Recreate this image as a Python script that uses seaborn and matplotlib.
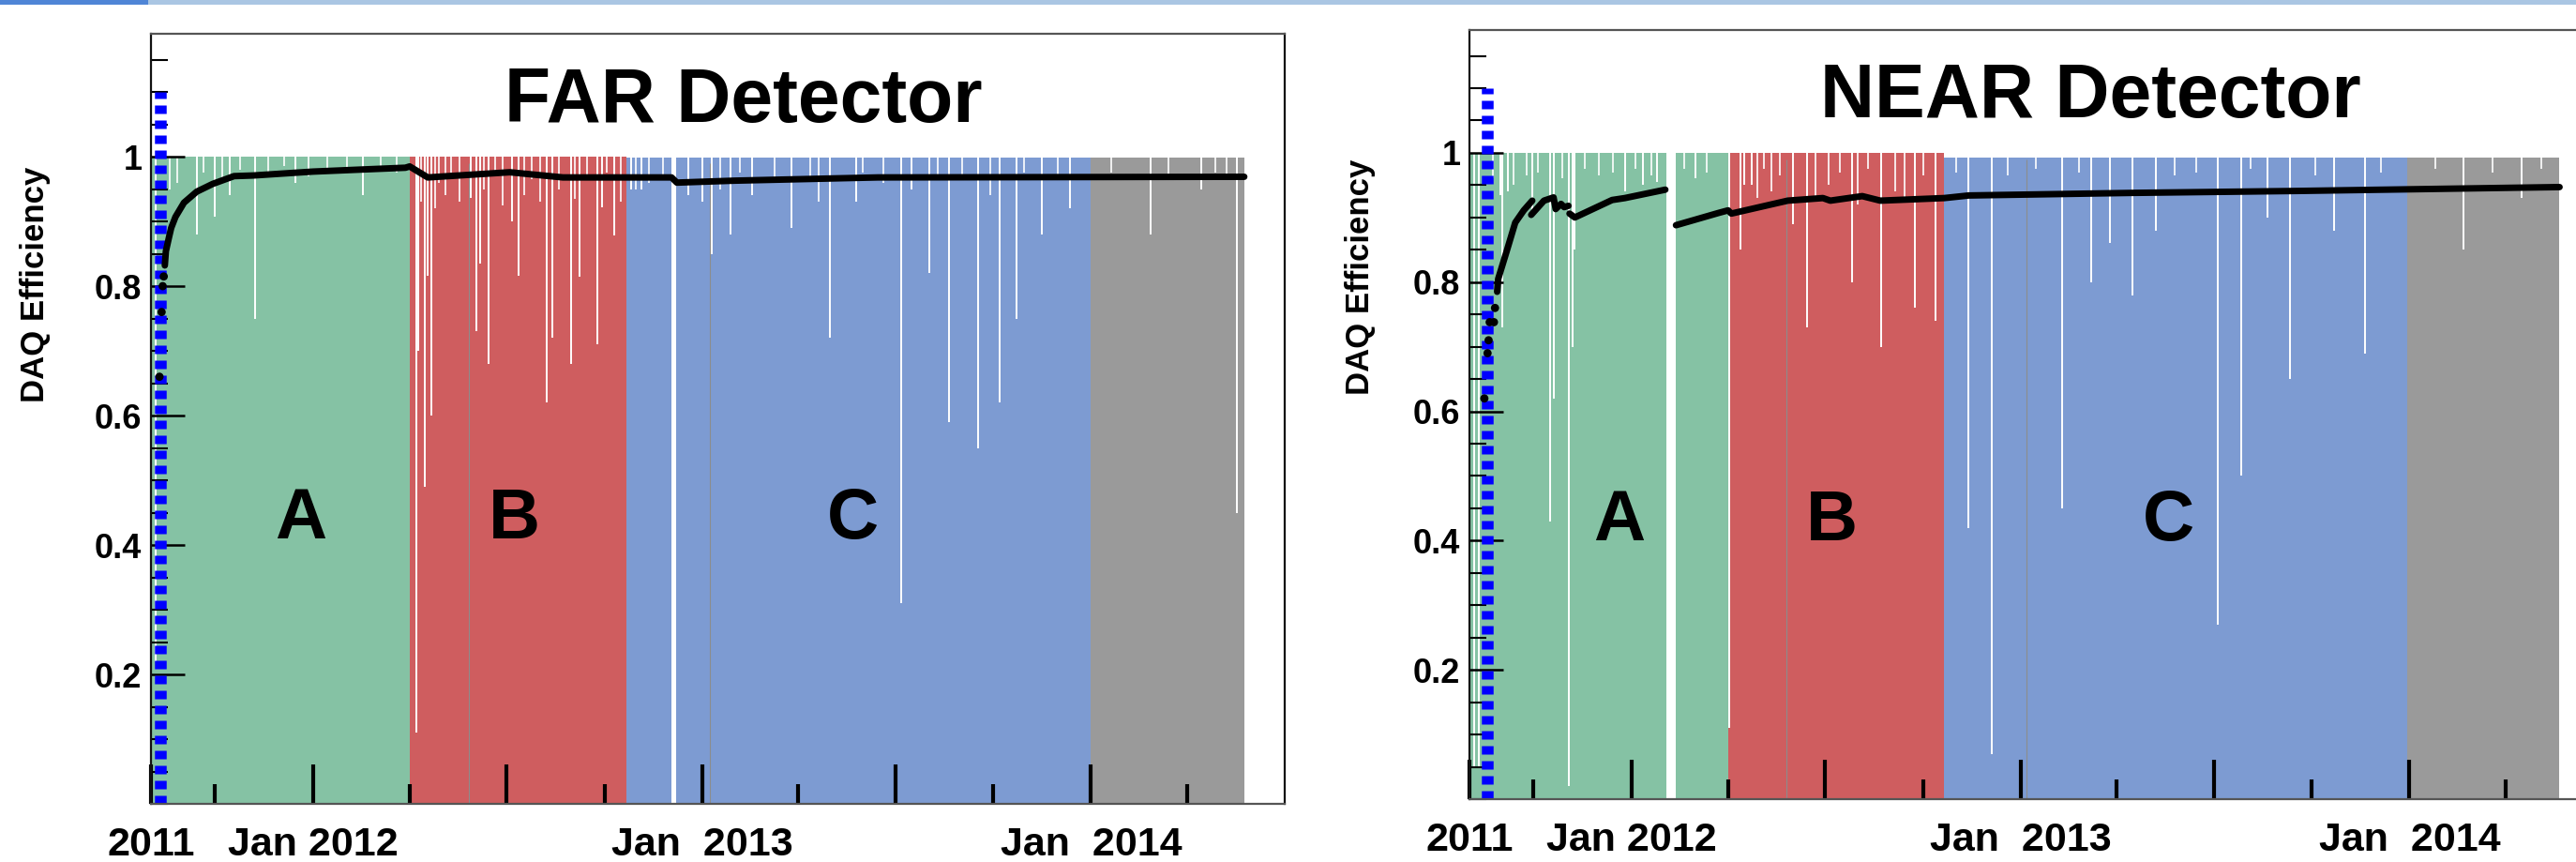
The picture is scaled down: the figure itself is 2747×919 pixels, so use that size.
import pandas as pd
import matplotlib
matplotlib.use("Agg")
import matplotlib.pyplot as plt
import matplotlib.dates as mdates
from matplotlib.patches import Rectangle
from matplotlib.ticker import FixedLocator, MultipleLocator
import seaborn as sns

# ================= DATA =================
X_START = "2011-08-02"
X_END = "2014-07-02"

PERIOD_COLORS = {"A": "#85C2A4", "B": "#CF5D5F", "C": "#7D9BD2", "D": "#9A9A9A"}

# FAR detector run periods (gaps = no data)
far_period_label = ["A", "B", "C", "C", "D"]
far_period_start = ["2011-08-02", "2012-04-01", "2012-10-22", "2012-12-07", "2014-01-01"]
far_period_end = ["2012-04-01", "2012-10-22", "2012-12-03", "2014-01-01", "2014-05-25"]
far_period_top = [1.0, 1.0, 0.998, 0.998, 0.998]

# NEAR detector run periods
near_period_label = ["A", "A", "B", "C", "D"]
near_period_start = ["2011-08-02", "2012-02-12", "2012-04-01", "2012-10-21", "2013-12-30"]
near_period_end = ["2012-02-03", "2012-04-01", "2012-10-21", "2013-12-30", "2014-05-22"]
near_period_top = [1.0, 1.0, 1.0, 0.993, 0.993]

# days with low DAQ efficiency (white notches in the histogram)
far_dip_dates = ["2011-08-06", "2011-09-14", "2011-10-01", "2011-10-15", "2011-11-08", "2011-12-16",
                 "2012-02-17", "2012-04-07", "2012-04-09", "2012-04-15", "2012-04-18", "2012-04-21",
                 "2012-05-28", "2012-06-03", "2012-06-06", "2012-06-14", "2012-07-06", "2012-07-12",
                 "2012-08-08", "2012-08-13", "2012-08-31", "2012-09-08", "2012-09-24", "2012-09-29",
                 "2012-10-10", "2012-10-26", "2012-11-05", "2012-12-19", "2013-01-01", "2013-01-10",
                 "2013-01-27", "2013-02-17", "2013-03-26", "2013-05-01", "2013-05-25", "2013-07-07",
                 "2013-07-16", "2013-08-02", "2013-08-21", "2013-09-17", "2013-10-07", "2013-10-23",
                 "2013-11-16", "2013-12-12", "2014-02-26", "2014-04-15", "2014-05-18"]
far_dip_values = [0.22, 0.88, 0.907, 0.94, 0.75, 0.96,
                  0.94, 0.11, 0.70, 0.49, 0.816, 0.60,
                  0.936, 0.73, 0.835, 0.68, 0.90, 0.816,
                  0.62, 0.72, 0.68, 0.814, 0.71, 0.922,
                  0.878, 0.95, 0.95, 0.94, 0.93, 0.85,
                  0.88, 0.94, 0.89, 0.72, 0.93, 0.31,
                  0.95, 0.82, 0.59, 0.55, 0.62, 0.75,
                  0.88, 0.92, 0.88, 0.95, 0.45]

near_dip_dates = ["2011-08-06", "2011-08-11", "2011-08-31", "2011-09-02", "2011-09-07", "2011-09-30",
                  "2011-10-17", "2011-10-20", "2011-11-03", "2011-11-07", "2011-11-09", "2011-12-26",
                  "2012-01-12", "2012-01-25", "2012-03-01", "2012-04-02", "2012-04-13", "2012-04-16",
                  "2012-04-23", "2012-06-01", "2012-06-14", "2012-07-26", "2012-08-23", "2012-09-23",
                  "2012-10-13", "2012-11-13", "2012-12-05", "2013-02-09", "2013-03-08", "2013-03-26",
                  "2013-04-16", "2013-05-08", "2013-07-05", "2013-07-27", "2013-08-21", "2013-09-11",
                  "2013-10-22", "2013-11-20", "2014-02-21", "2014-04-16"]
near_dip_values = [0.05, 0.05, 0.935, 0.73, 0.94, 0.91,
                   0.43, 0.62, 0.02, 0.70, 0.85, 0.94,
                   0.95, 0.955, 0.96, 0.11, 0.85, 0.95,
                   0.95, 0.89, 0.73, 0.80, 0.70, 0.76,
                   0.74, 0.42, 0.07, 0.45, 0.80, 0.86,
                   0.78, 0.88, 0.27, 0.50, 0.90, 0.65,
                   0.88, 0.69, 0.85, 0.93]

# small notches that make the ragged top of the histogram
far_notch_dates = ["2011-08-20", "2011-08-27", "2011-09-20", "2011-10-08", "2011-10-25", "2011-11-20",
                   "2011-12-05", "2011-12-28", "2012-01-15", "2012-02-02", "2012-03-05", "2012-03-20",
                   "2012-04-12", "2012-04-25", "2012-04-28", "2012-05-05", "2012-05-10", "2012-05-18",
                   "2012-06-10", "2012-06-20", "2012-06-27", "2012-07-18", "2012-07-25", "2012-08-02",
                   "2012-08-19", "2012-09-03", "2012-09-15", "2012-10-03", "2012-10-16",
                   "2012-10-30", "2012-11-12", "2012-11-25", "2013-01-18", "2013-02-05", "2013-03-10",
                   "2013-04-12", "2013-04-20", "2013-06-01", "2013-06-20", "2013-08-10", "2013-09-02",
                   "2013-09-28", "2013-10-30", "2013-12-01", "2014-01-20", "2014-03-15", "2014-04-28",
                   "2014-05-08"]
far_notch_values = [0.95, 0.96, 0.975, 0.965, 0.98, 0.975,
                    0.985, 0.97, 0.98, 0.975, 0.985, 0.975,
                    0.93, 0.92, 0.96, 0.94, 0.975, 0.93,
                    0.95, 0.97, 0.925, 0.94, 0.965, 0.93,
                    0.95, 0.935, 0.97, 0.975, 0.93,
                    0.95, 0.96, 0.97, 0.95, 0.975, 0.965,
                    0.97, 0.93, 0.975, 0.96, 0.97, 0.965,
                    0.94, 0.975, 0.97, 0.975, 0.97, 0.975,
                    0.965]

near_notch_dates = ["2011-08-24", "2011-09-12", "2011-09-25", "2011-10-05", "2011-10-28", "2011-11-18",
                    "2011-12-02", "2011-12-15", "2012-01-05", "2012-01-20", "2012-02-20", "2012-03-12",
                    "2012-04-28", "2012-05-05", "2012-05-12", "2012-05-20", "2012-06-22", "2012-07-04",
                    "2012-07-15", "2012-08-01", "2012-08-10", "2012-09-05", "2012-09-14", "2012-10-01",
                    "2012-11-01", "2012-12-20", "2013-01-15", "2013-02-25", "2013-05-25", "2013-06-15",
                    "2013-08-05", "2013-10-05", "2013-12-05", "2014-01-25", "2014-03-20", "2014-05-05"]
near_notch_values = [0.96, 0.95, 0.965, 0.97, 0.96, 0.975,
                     0.965, 0.97, 0.975, 0.965, 0.975, 0.97,
                     0.93, 0.975, 0.94, 0.965, 0.93, 0.95,
                     0.97, 0.92, 0.975, 0.94, 0.93, 0.965,
                     0.97, 0.965, 0.975, 0.97, 0.965, 0.97,
                     0.975, 0.965, 0.97, 0.975, 0.97, 0.975]

# thin gray seams between stacked histograms
far_seam_dates = ["2012-05-27", "2013-01-08"]
near_seam_dates = ["2012-05-26", "2013-01-06"]

# cumulative DAQ efficiency (black curve)
far_curve_dates = ["2011-08-15", "2011-08-16", "2011-08-19", "2011-08-21", "2011-08-25", "2011-09-02",
                   "2011-09-14", "2011-09-29", "2011-10-19", "2011-11-06", "2012-01-01", "2012-02-13",
                   "2012-03-28", "2012-04-01", "2012-04-18", "2012-07-04", "2012-08-23", "2012-12-03",
                   "2012-12-08", "2013-01-31", "2013-06-15", "2014-05-25"]
far_curve_values = [0.832, 0.854, 0.876, 0.890, 0.907, 0.929,
                    0.946, 0.958, 0.970, 0.971, 0.977, 0.980,
                    0.983, 0.985, 0.968, 0.976, 0.968, 0.968,
                    0.960, 0.963, 0.968, 0.969]
far_curve_segment = [1] * 22

far_dot_dates = ["2011-08-10", "2011-08-12", "2011-08-13", "2011-08-14"]
far_dot_values = [0.66, 0.76, 0.80, 0.815]

near_curve_dates = ["2011-08-28", "2011-08-29", "2011-09-06", "2011-09-14", "2011-09-22", "2011-09-30",
                    "2011-09-29", "2011-10-11", "2011-10-20", "2011-10-22", "2011-10-27", "2011-10-30", "2011-11-03",
                    "2011-11-04", "2011-11-09", "2011-12-14", "2011-12-26", "2012-02-02",
                    "2012-02-12", "2012-03-23", "2012-04-01", "2012-04-04", "2012-05-27", "2012-06-29",
                    "2012-07-06", "2012-08-05", "2012-08-22", "2012-10-21", "2012-11-13", "2013-04-16",
                    "2013-09-18", "2014-05-22"]
near_curve_values = [0.785, 0.805, 0.848, 0.892, 0.911, 0.926,
                     0.904, 0.926, 0.931, 0.913, 0.921, 0.916, 0.918,
                     0.906, 0.900, 0.927, 0.930, 0.943,
                     0.888, 0.907, 0.911, 0.906, 0.926, 0.930,
                     0.926, 0.933, 0.926, 0.930, 0.934, 0.938,
                     0.941, 0.947]
near_curve_segment = [1] * 6 + [2] * 7 + [3] * 5 + [4] * 14

near_dot_dates = ["2011-08-16", "2011-08-19", "2011-08-20", "2011-08-21", "2011-08-25", "2011-08-26"]
near_dot_values = [0.62, 0.69, 0.71, 0.738, 0.738, 0.76]

# start of physics data taking (blue dashed line)
far_start_date = "2011-08-11"
near_start_date = "2011-08-19"

# axis labels
X_TICK_DATES = [X_START, "2012-01-01", "2012-07-01", "2013-01-01", "2013-07-01", "2014-01-01"]
X_TICK_LABELS = ["2011", "Jan 2012", "", "Jan  2013", "", "Jan  2014"]
X_MINOR_DATES = ["2011-10-01", "2012-04-01", "2012-10-01", "2013-04-01", "2013-10-01", "2014-04-01"]
Y_TICKS = [0.2, 0.4, 0.6, 0.8, 1.0]
Y_TICK_LABELS = ["0.2", "0.4", "0.6", "0.8", "1"]

far_letter_dates = ["2011-12-21", "2012-07-08", "2013-05-22"]
near_letter_dates = ["2011-12-21", "2012-07-07", "2013-05-20"]
letters = ["A", "B", "C"]


def dnum(dates):
    return mdates.date2num(pd.to_datetime(dates).to_pydatetime())


def draw_panel(ax, p_label, p_start, p_end, p_top, dip_d, dip_v, notch_d, notch_v, seams,
               c_dates, c_vals, c_seg, dot_d, dot_v, start_date, title, title_xy,
               letter_dates, letter_y, ylabel_xy):
    # run periods as filled histogram blocks
    starts = dnum(p_start)
    ends = dnum(p_end)
    for lab, s, e, top in zip(p_label, starts, ends, p_top):
        ax.bar(s, top, width=e - s, bottom=0, align="edge", color=PERIOD_COLORS[lab],
               linewidth=0, zorder=1)

    # low-efficiency days
    ax.vlines(dnum(dip_d), dip_v, 1.01, colors="white", linewidth=1.4, zorder=2)
    ax.vlines(dnum(notch_d), notch_v, 1.01, colors="white", linewidth=1.2, zorder=2)
    ax.vlines(dnum(seams), 0, 0.99, colors="#8c8c8c", linewidth=0.8, zorder=2)

    # blue dashed line: start of data taking
    sd = dnum([start_date])[0]
    ax.plot([sd, sd], [0, 1.1], color="#0000FF", linewidth=9,
            linestyle=(0, (0.72, 0.56)), dash_capstyle="butt", zorder=3)

    # cumulative efficiency
    curve = pd.DataFrame({"x": dnum(c_dates), "eff": c_vals, "seg": c_seg})
    sns.lineplot(data=curve, x="x", y="eff", units="seg", estimator=None, color="black",
                 linewidth=5, legend=False, ax=ax, zorder=4)
    sns.scatterplot(x=dnum(dot_d), y=dot_v, color="black", s=40, edgecolor="none",
                    legend=False, ax=ax, zorder=4)

    # axes
    ax.set_xlim(dnum([X_START])[0], dnum([X_END])[0])
    ax.set_ylim(0, 1.19)
    ax.xaxis.set_major_locator(FixedLocator(dnum(X_TICK_DATES)))
    ax.set_xticklabels(X_TICK_LABELS)
    ax.xaxis.set_minor_locator(FixedLocator(dnum(X_MINOR_DATES)))
    ax.yaxis.set_major_locator(FixedLocator(Y_TICKS))
    ax.set_yticklabels(Y_TICK_LABELS)
    ax.yaxis.set_minor_locator(MultipleLocator(0.05))
    ax.set_xlabel("")
    ax.set_ylabel("")
    ax.set_axisbelow(False)

    ax.tick_params(axis="x", which="major", direction="in", length=30, width=3,
                   pad=17, labelsize=31, top=False, bottom=True, colors="black")
    ax.tick_params(axis="x", which="minor", direction="in", length=15, width=3,
                   top=False, bottom=True, colors="black")
    ax.tick_params(axis="y", which="major", direction="in", length=26, width=1.8,
                   pad=7, labelsize=26, right=False, left=True, colors="black")
    ax.tick_params(axis="y", which="minor", direction="in", length=13, width=1.5,
                   right=False, left=True, colors="black")

    for name, sp in ax.spines.items():
        sp.set_visible(True)
        sp.set_linewidth(1.6)
        sp.set_color("#111111" if name in ("left", "right") else "#555555")
        sp.set_zorder(5)

    # titles and labels
    ax.text(title_xy[0], title_xy[1], title, transform=ax.transAxes, ha="center",
            va="baseline", fontsize=58, fontweight="bold", color="black", zorder=6)
    for d, t in zip(dnum(letter_dates), letters):
        ax.text(d, letter_y, t, ha="center", va="baseline", fontsize=55,
                fontweight="bold", color="black", zorder=6)
    ax.text(ylabel_xy[0], ylabel_xy[1], "DAQ Efficiency", transform=ax.transAxes,
            rotation=90, ha="center", va="center", fontsize=25, fontweight="bold",
            color="black")


sns.set_theme(style="ticks")
plt.rcParams["font.family"] = ["Liberation Sans", "DejaVu Sans"]
plt.rcParams["font.weight"] = "bold"
plt.rcParams["text.color"] = "black"
plt.rcParams["xtick.color"] = "black"
plt.rcParams["ytick.color"] = "black"

fig = plt.figure(figsize=(27.47, 9.19), dpi=100)
fig.patch.set_facecolor("white")

# slide header strip
fig.add_artist(Rectangle((0, 1 - 5 / 919), 1, 5 / 919, transform=fig.transFigure,
                         color="#AAC6E3", linewidth=0))
fig.add_artist(Rectangle((0, 1 - 5 / 919), 158 / 2747, 5 / 919, transform=fig.transFigure,
                         color="#4F85D6", linewidth=0))

ax_far = fig.add_axes([161 / 2747, (919 - 857) / 919, 1209 / 2747, 821 / 919])
ax_near = fig.add_axes([1567 / 2747, (919 - 852) / 919, 1209 / 2747, 820 / 919])

draw_panel(ax_far, far_period_label, far_period_start, far_period_end, far_period_top,
           far_dip_dates, far_dip_values, far_notch_dates, far_notch_values, far_seam_dates,
           far_curve_dates, far_curve_values, far_curve_segment, far_dot_dates, far_dot_values,
           far_start_date, "FAR Detector", (0.523, 0.8855), far_letter_dates, 0.41, (-0.102, 0.674))

draw_panel(ax_near, near_period_label, near_period_start, near_period_end, near_period_top,
           near_dip_dates, near_dip_values, near_notch_dates, near_notch_values, near_seam_dates,
           near_curve_dates, near_curve_values, near_curve_segment, near_dot_dates, near_dot_values,
           near_start_date, "NEAR Detector", (0.548, 0.886), near_letter_dates, 0.40, (-0.096, 0.679))

fig.savefig("out.png", dpi=100)
plt.close(fig)
